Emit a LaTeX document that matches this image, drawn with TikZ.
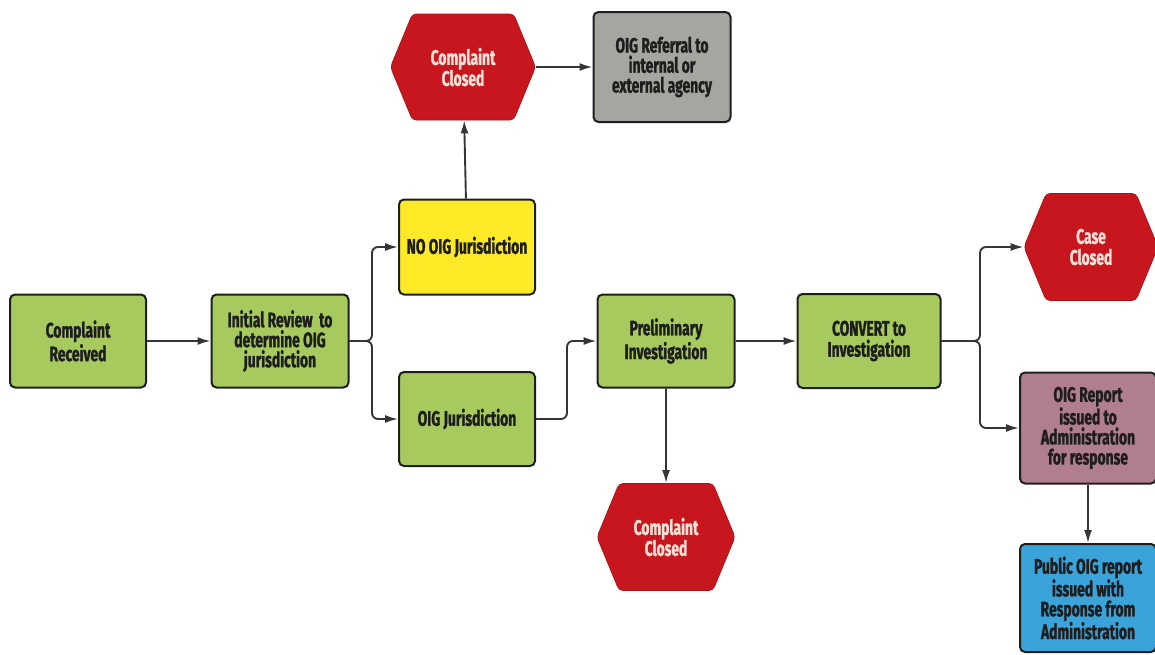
\documentclass[tikz,border=0pt]{standalone}
\usepackage{fontspec}
\setmainfont{Fira Sans}[FakeStretch=0.66, BoldFeatures={FakeBold=1.3}]
\usetikzlibrary{shapes.symbols,arrows.meta}
\definecolor{boxgreen}{RGB}{166,202,94}
\definecolor{boxyellow}{RGB}{255,234,40}
\definecolor{boxred}{RGB}{200,22,30}
\definecolor{boxgray}{RGB}{166,166,160}
\definecolor{boxmauve}{RGB}{176,126,142}
\definecolor{boxblue}{RGB}{58,163,218}
\definecolor{edge}{RGB}{30,30,30}
\definecolor{hextext}{RGB}{250,225,215}
\tikzset{
  box/.style={draw=edge, line width=2pt, rounded corners=5pt, align=center,
    font=\fontsize{21}{20}\selectfont\bfseries, text=edge, inner sep=2pt},
  greenbox/.style={box, fill=boxgreen},
  hexa/.style={shape=signal, signal to=east and west, signal pointer angle=135,
    fill=boxred, draw=boxred!85!black, line width=0.8pt, rounded corners=4pt, align=center,
    font=\fontsize{21}{21}\selectfont\bfseries, text=hextext, inner sep=0pt},
  arr/.style={draw=edge!90, line width=1.9pt, -{Latex[length=13pt,width=8pt]}},
}
\begin{document}
\begin{tikzpicture}[x=1pt,y=-1pt]
\useasboundingbox (0,0) rectangle (1155,654);
% nodes
\node[greenbox, minimum width=136pt, minimum height=93pt] (cr) at (78,341) {Complaint\\[1pt]Received};
\node[greenbox, minimum width=137pt, minimum height=93pt] (ir) at (280,341) {Initial Review\ \ to\\determine OIG\\jurisdiction};
\node[box, fill=boxyellow, minimum width=136pt, minimum height=95pt] (nj) at (467,247) {NO OIG Jurisdiction};
\node[greenbox, minimum width=136pt, minimum height=94pt] (jr) at (467,419) {OIG Jurisdiction};
\node[hexa, minimum width=145pt, minimum height=106pt] (cc1) at (463,67) {Complaint\\Closed};
\node[box, fill=boxgray, minimum width=137pt, minimum height=110pt] (ref) at (662,67) {OIG Referral to\\internal or\\external agency};
\node[greenbox, minimum width=137pt, minimum height=93pt] (pi) at (666,341) {Preliminary\\[1pt]Investigation};
\node[hexa, minimum width=138pt, minimum height=107pt] (cc2) at (666,537) {Complaint\\Closed};
\node[greenbox, minimum width=143pt, minimum height=94pt] (cv) at (869,341) {CONVERT to\\[1pt]Investigation};
\node[hexa, minimum width=134pt, minimum height=107pt] (cs) at (1091,247) {Case\\Closed};
\node[box, fill=boxmauve, minimum width=136pt, minimum height=111pt] (rp) at (1088,428) {OIG Report\\issued to\\Administration\\for response};
\node[box, fill=boxblue, minimum width=136pt, minimum height=108pt] (pb) at (1088,598) {Public OIG report\\issued with\\Response from\\Administration};
% branch points
\coordinate (b1) at (372,341);
\coordinate (b2) at (567,419);
\coordinate (b3) at (980,341);
% connectors
\draw[arr] (cr) -- (ir);
\draw[arr, rounded corners=6pt] (ir.east) -- (b1) |- (nj.west);
\draw[arr, rounded corners=6pt] (ir.east) -- (b1) |- (jr.west);
\draw[arr] (nj) -- (cc1);
\draw[arr] (cc1) -- (ref);
\draw[arr, rounded corners=6pt] (jr.east) -- (b2) |- (pi.west);
\draw[arr] (pi) -- (cv);
\draw[arr] (pi) -- (cc2);
\draw[arr, rounded corners=6pt] (cv.east) -- (b3) |- (cs.west);
\draw[arr, rounded corners=6pt] (cv.east) -- (b3) |- (rp.west);
\draw[arr] (rp) -- (pb);
\end{tikzpicture}
\end{document}
